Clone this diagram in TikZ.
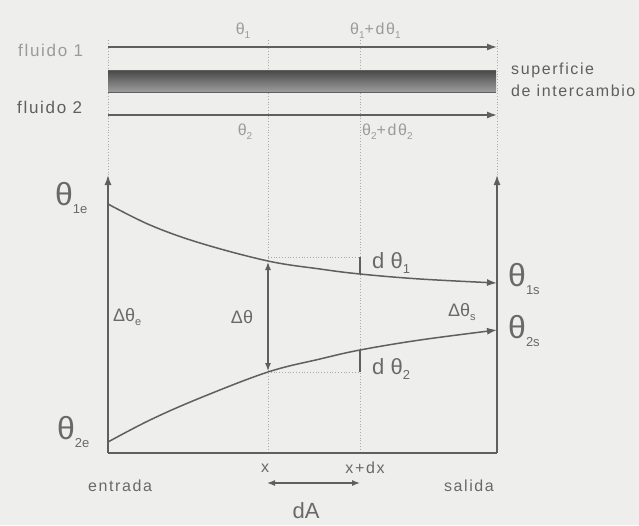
\documentclass[tikz,border=0pt]{standalone}
\usepackage{fontspec}
\setmainfont{Liberation Sans}
\newfontfamily\spaced[LetterSpace=10]{Liberation Sans}
\usetikzlibrary{arrows.meta}
\definecolor{bg}{RGB}{238,238,236}
\definecolor{ln}{RGB}{95,95,95}
\definecolor{tx}{RGB}{105,105,105}
\definecolor{lt}{RGB}{155,155,155}
\definecolor{dt}{RGB}{170,170,170}
\newcommand{\lsub}[2]{\raisebox{-0.45ex}{\fontsize{#1}{#1}\selectfont #2}}
\begin{document}
\begin{tikzpicture}[x=1pt,y=-1pt,
  axis/.style={draw=ln,line width=1.6pt,-{Latex[length=10pt,width=7pt]}},
  curve/.style={draw=ln,line width=1.5pt},
  dotl/.style={draw=dt,line width=0.8pt,dotted},
  big/.style={text=tx,font=\fontsize{32}{32}\selectfont,inner sep=0pt},
  mid/.style={text=tx,font=\fontsize{18}{18}\selectfont,inner sep=0pt},
  dlab/.style={text=tx,font=\fontsize{22}{22}\selectfont,inner sep=0pt},
  small/.style={text=lt,font=\spaced\fontsize{16}{16}\selectfont,inner sep=0pt},
  word/.style={text=ln,font=\spaced\fontsize{16}{16}\selectfont,inner sep=0pt,anchor=west}
]
\useasboundingbox (0,0) rectangle (639,525);
\fill[bg] (0,0) rectangle (639,525);

% key coordinates
\coordinate (O) at (108,453);
\coordinate (L) at (108,175);
\coordinate (R0) at (497,453);
\coordinate (R) at (497,175);
\coordinate (xb) at (268,453);
\coordinate (xdb) at (360,453);

% dotted verticals
\draw[dotl] (108,40) -- (O);
\draw[dotl] (268,40) -- (xb);
\draw[dotl] (360,40) -- (xdb);
\draw[dotl] (497,40) -- (R0);

% fluid band
\coordinate (f1a) at (108,47);
\coordinate (f1b) at (497,47);
\coordinate (f2a) at (108,115);
\coordinate (f2b) at (497,115);
\shade[top color=black!72,bottom color=black!38] (108,70) rectangle (496,92);
\draw[ln,line width=1pt] (108,70) -- (496,70);
\draw[ln,line width=1pt] (108,92) -- (496,92);
\draw[axis,line width=1.4pt] (f1a) -- (f1b);
\draw[axis,line width=1.4pt] (f2a) -- (f2b);

\node[text=lt,font=\spaced\fontsize{17}{17}\selectfont,anchor=west,inner sep=0pt] (fl1) at (18,50) {fluido 1};
\node[text=ln,font=\spaced\fontsize{17}{17}\selectfont,anchor=west,inner sep=0pt] (fl2) at (17,107) {fluido 2};
\node[word] (sup) at (511,70) {superficie};
\node[word] (int) at (511,91) {de intercambio};

\node[small] (t1) at (243,31) {θ\lsub{10}{1}};
\node[small,anchor=west] (t1d) at (350,31) {θ\lsub{10}{1}+dθ\lsub{10}{1}};
\node[small] (t2) at (245,132) {θ\lsub{10}{2}};
\node[small,anchor=west] (t2d) at (362,132) {θ\lsub{10}{2}+dθ\lsub{10}{2}};

% axes
\draw[axis] (O) -- (L);
\draw[axis] (R0) -- (R);
\draw[ln,line width=1.6pt] (O) -- (R0);

% curves
\draw[curve,-{Latex[length=10pt,width=7pt]}] plot[smooth,tension=0.6] coordinates
  {(108,204) (150,225) (200,243) (268,261) (320,269) (360,274) (420,279) (497,283)};
\draw[curve,-{Latex[length=10pt,width=7pt]}] plot[smooth,tension=0.6] coordinates
  {(108,442) (150,420) (200,398) (268,372) (320,359) (360,350) (420,340) (497,330)};

% delta theta arrow
\coordinate (c1) at (268,262);
\coordinate (c2) at (268,371);
\draw[ln,line width=1.2pt,{Latex[length=8pt,width=6pt]}-{Latex[length=8pt,width=6pt]}] (c1) -- (c2);

% d theta marks
\coordinate (d1a) at (268,257);
\coordinate (d1b) at (360,257);
\coordinate (d1c) at (360,274);
\coordinate (d2a) at (268,372);
\coordinate (d2b) at (360,372);
\coordinate (d2c) at (360,350);
\draw[dotl,line width=1pt] (d1a) -- (d1b);
\draw[ln,line width=1.2pt] (d1b) -- (d1c);
\draw[dotl,line width=1pt] (d2a) -- (d2b);
\draw[ln,line width=1.2pt] (d2c) -- (d2b);

% labels
\node[big,anchor=west] (t1e) at (55,198) {θ\lsub{13}{1e}};
\node[big,anchor=west] (t2e) at (57,432) {θ\lsub{13}{2e}};
\node[big,anchor=west] (t1s) at (508,279) {θ\lsub{13}{1s}};
\node[big,anchor=west] (t2s) at (508,331) {θ\lsub{13}{2s}};

\node[mid,anchor=west] (dte) at (113,317) {Δθ\lsub{11}{e}};
\node[mid] (dt) at (242,317) {Δθ};
\node[mid,anchor=west] (dts) at (448,312) {Δθ\lsub{11}{s}};

\node[dlab,anchor=west] (dt1) at (372,263) {d θ\lsub{13}{1}};
\node[dlab,anchor=west] (dt2) at (372,369) {d θ\lsub{13}{2}};

\node[small,text=tx] (xl) at (265,468) {x};
\node[small,text=tx] (xdl) at (365,468) {x+dx};
\node[text=tx,font=\spaced\fontsize{16}{16}\selectfont,inner sep=0pt] (ent) at (120,486) {entrada};
\node[text=tx,font=\spaced\fontsize{16}{16}\selectfont,inner sep=0pt] (sal) at (469,486) {salida};

\coordinate (dA1) at (267,483);
\coordinate (dA2) at (360,483);
\draw[ln,line width=1.3pt,{Latex[length=8pt,width=6pt]}-{Latex[length=8pt,width=6pt]}] (dA1) -- (dA2);
\node[text=tx,font=\fontsize{22}{22}\selectfont,inner sep=0pt] (dA) at (306,511) {dA};
\end{tikzpicture}
\end{document}
